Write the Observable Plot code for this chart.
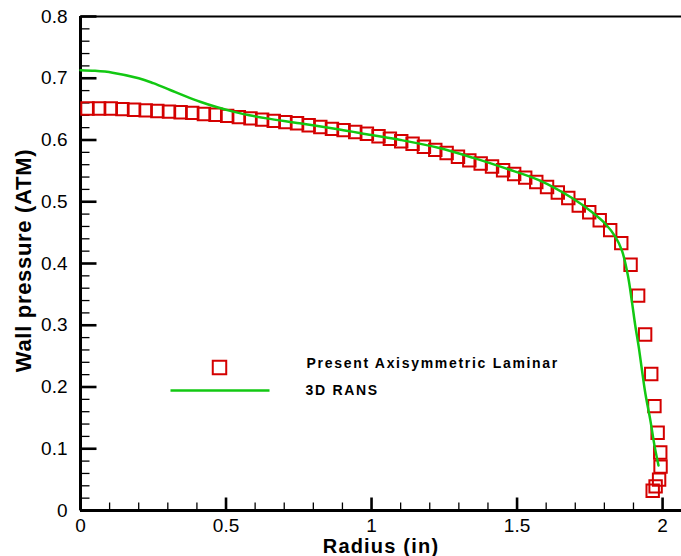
<!DOCTYPE html>
<html><head><meta charset="utf-8">
<script src="https://cdn.jsdelivr.net/npm/d3@7"></script>
<script src="https://cdn.jsdelivr.net/npm/@observablehq/plot@0.6"></script>
<style>html,body{margin:0;padding:0;background:#fff;} svg{display:block}</style>
</head><body><div id="chart"></div>
<script>
// Present Axisymmetric Laminar (square symbols)
const laminarRadius = [0.024,0.064,0.104,0.144,0.184,0.224,0.264,0.304,0.344,0.384,0.424,0.464,0.504,0.544,0.584,0.624,0.664,0.704,0.744,0.784,0.824,0.864,0.904,0.944,0.984,1.024,1.063,1.102,1.141,1.180,1.219,1.258,1.297,1.336,1.375,1.414,1.452,1.490,1.528,1.566,1.603,1.640,1.676,1.712,1.748,1.784,1.820,1.858,1.890,1.916,1.940,1.961,1.972,1.983,1.992,1.993,1.988,1.976,1.966];
const laminarPressure = [0.651,0.651,0.651,0.650,0.649,0.648,0.647,0.646,0.645,0.644,0.642,0.641,0.639,0.637,0.635,0.633,0.631,0.629,0.627,0.624,0.621,0.618,0.616,0.613,0.610,0.606,0.602,0.598,0.594,0.589,0.584,0.579,0.573,0.567,0.562,0.557,0.551,0.545,0.539,0.532,0.524,0.515,0.506,0.494,0.483,0.470,0.454,0.433,0.398,0.348,0.285,0.221,0.169,0.126,0.094,0.071,0.050,0.039,0.032];
// 3D RANS (green line)
const ransRadius = [0,0.05,0.11,0.2,0.25,0.308,0.36,0.411,0.47,0.525,0.58,0.64,0.753,0.89,1.0,1.1,1.233,1.35,1.461,1.575,1.689,1.758,1.804,1.838,1.861,1.881,1.895,1.906,1.918,1.929,1.941,1.958,1.973,1.986];
const ransPressure = [0.713,0.712,0.709,0.700,0.692,0.681,0.671,0.662,0.653,0.646,0.640,0.635,0.627,0.617,0.608,0.600,0.587,0.571,0.554,0.535,0.506,0.483,0.464,0.443,0.420,0.380,0.337,0.300,0.265,0.228,0.189,0.146,0.103,0.073];

const seriesNames = ["Present Axisymmetric Laminar", "3D RANS"];
const xTitle = "Radius (in)";
const yTitle = "Wall pressure (ATM)";
const xTicks = [0, 0.5, 1, 1.5, 2];
const xMinorTicks = [0.1,0.2,0.3,0.4,0.6,0.7,0.8,0.9,1.1,1.2,1.3,1.4,1.6,1.7,1.8,1.9];
const yTicks = [0,0.1,0.2,0.3,0.4,0.5,0.6,0.7,0.8];
const yMinorTicks = [0.02,0.04,0.06,0.08,0.12,0.14,0.16,0.18,0.22,0.24,0.26,0.28,0.32,0.34,0.36,0.38,0.42,0.44,0.46,0.48,0.52,0.54,0.56,0.58,0.62,0.64,0.66,0.68,0.72,0.74,0.76,0.78];

const laminar = laminarRadius.map((r, i) => ({r, p: laminarPressure[i]}));
const rans = ransRadius.map((r, i) => ({r, p: ransPressure[i]}));

const RED = "#d40000";
const GREEN = "#12c812";
const TICK = "#000";
const W = 681, H = 556, ML = 80, MR = 0, MT = 16, MB = 46;

// custom symbols: legend line and inward tick marks
const hLine = {draw(ctx) { ctx.moveTo(-49.5, 0); ctx.lineTo(49.5, 0); }};
const upTick = len => ({draw(ctx) { ctx.moveTo(0, 0); ctx.lineTo(0, -len); }});
const rightTick = len => ({draw(ctx) { ctx.moveTo(0, 0); ctx.lineTo(len, 0); }});
const fmt = d => String(d);

const chart = Plot.plot({
  width: W, height: H,
  marginLeft: ML, marginRight: MR, marginTop: MT, marginBottom: MB,
  x: {domain: [0, 2.065]},
  y: {domain: [0, 0.8]},
  style: {fontFamily: "'Liberation Sans', Arial, sans-serif", fontSize: "18px", background: "#fff", color: "#000"},
  marks: [
    Plot.axisX({ticks: xTicks, tickFormat: fmt, tickSize: 0, tickPadding: 8, label: null, fontSize: 19}),
    Plot.axisY({ticks: yTicks, tickFormat: fmt, tickSize: 0, tickPadding: 13, label: null, fontSize: 19}),
    // minor & major ticks (inward)
    Plot.dot(xMinorTicks, {x: d => d, frameAnchor: "bottom", symbol: upTick(8), stroke: TICK, strokeWidth: 1.3, fill: "none"}),
    Plot.dot(xTicks, {x: d => d, frameAnchor: "bottom", symbol: upTick(13), stroke: TICK, strokeWidth: 2.6, fill: "none"}),
    Plot.dot(yMinorTicks, {y: d => d, frameAnchor: "left", symbol: rightTick(9), stroke: TICK, strokeWidth: 1.3, fill: "none"}),
    Plot.dot(yTicks, {y: d => d, frameAnchor: "left", symbol: rightTick(16), stroke: TICK, strokeWidth: 2.6, fill: "none"}),
    // frame lines
    Plot.ruleY([0.8], {stroke: "#000", strokeWidth: 2.2}),
    Plot.ruleY([0], {stroke: "#000", strokeWidth: 3}),
    Plot.ruleX([0], {stroke: "#000", strokeWidth: 3}),
    // data
    Plot.dot(laminar, {x: "r", y: "p", symbol: "square", r: 7, stroke: RED, strokeWidth: 2, fill: "none"}),
    Plot.line(rans, {x: "r", y: "p", stroke: GREEN, strokeWidth: 2.5, curve: "catmull-rom"}),
    // legend
    Plot.dot([seriesNames[0]], {frameAnchor: "top-left", dx: 139, dy: 351, symbol: "square", r: 7.6, stroke: RED, strokeWidth: 2, fill: "none"}),
    Plot.dot([seriesNames[1]], {frameAnchor: "top-left", dx: 139.5, dy: 374, symbol: hLine, r: 5, stroke: GREEN, strokeWidth: 2.5, fill: "none"}),
    Plot.text([seriesNames[0]], {frameAnchor: "top-left", dx: 226, dy: 347, text: d => d, textAnchor: "start", lineAnchor: "middle", fontSize: 14, fontWeight: "bold"}),
    Plot.text([seriesNames[1]], {frameAnchor: "top-left", dx: 225, dy: 374, text: d => d, textAnchor: "start", lineAnchor: "middle", fontSize: 14, fontWeight: "bold"}),
    // axis titles
    Plot.text([xTitle], {frameAnchor: "bottom", dy: 36, text: d => d, textAnchor: "middle", lineAnchor: "middle", fontSize: 20, fontWeight: "bold"}),
    Plot.text([yTitle], {frameAnchor: "left", dx: -57, dy: -3, rotate: -90, text: d => d, textAnchor: "middle", lineAnchor: "middle", fontSize: 22, fontWeight: "bold"})
  ]
});
// letter spacing for legend / titles
chart.querySelectorAll("text").forEach(t => {
  const s = t.textContent;
  if (s === seriesNames[0] || s === seriesNames[1]) t.setAttribute("letter-spacing", "1.7");
  if (s === xTitle) t.setAttribute("letter-spacing", "1.2");
  if (s === yTitle) t.setAttribute("letter-spacing", "0.7");
});
document.getElementById("chart").appendChild(chart);
</script>
</body></html>
